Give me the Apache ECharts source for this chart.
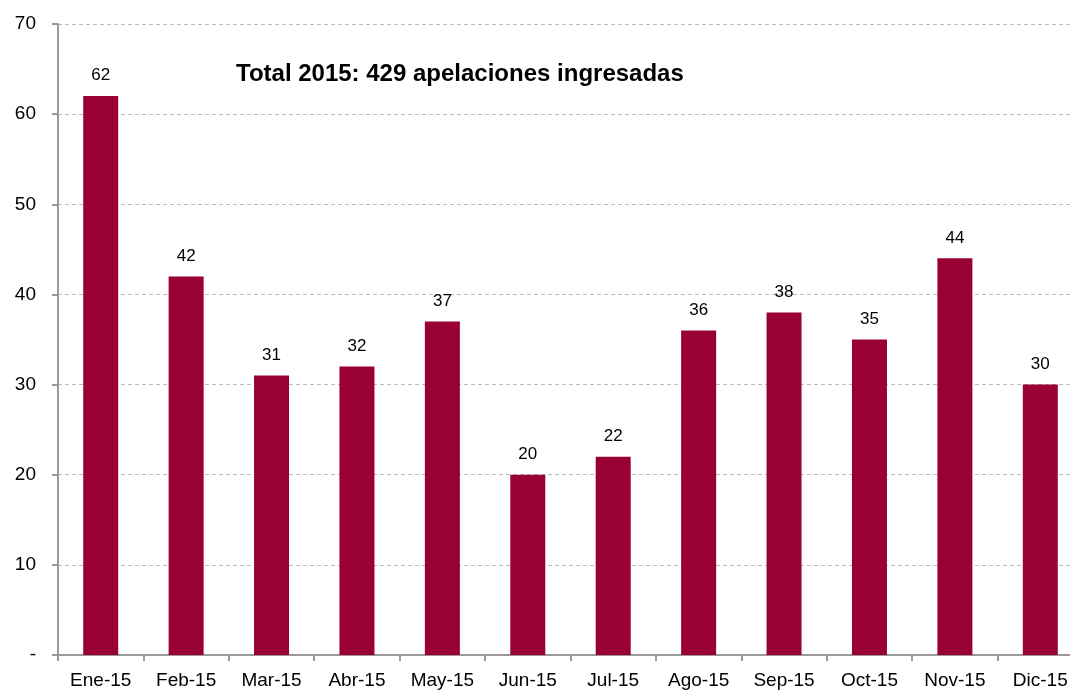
<!DOCTYPE html>
<html>
<head>
<meta charset="utf-8">
<script src="https://cdn.jsdelivr.net/npm/echarts@6/dist/echarts.min.js"></script>
<style>
  html, body { margin: 0; padding: 0; background: #fff; overflow: hidden; }
  #chart { width: 1083px; height: 690px; }
</style>
</head>
<body>
<div id="chart"></div>
<script>
var meses = ['Ene-15', 'Feb-15', 'Mar-15', 'Abr-15', 'May-15', 'Jun-15',
             'Jul-15', 'Ago-15', 'Sep-15', 'Oct-15', 'Nov-15', 'Dic-15'];
var apelaciones = [62, 42, 31, 32, 37, 20, 22, 36, 38, 35, 44, 30];
var tituloTotal = 'Total 2015: 429 apelaciones ingresadas';

// el eje sigue un poco a la derecha del borde de la ventana, como en el original
var chart = echarts.init(document.getElementById('chart'));
var option = {
    animation: false,
    textStyle: { fontFamily: 'Liberation Sans, Arial, sans-serif' },
    title: {
        text: tituloTotal,
        left: 231,
        top: 57,
        textStyle: { fontSize: 24, fontWeight: 'bold', color: '#000' }
    },
    grid: { left: 58, right: 0, top: 24, bottom: 35, containLabel: false },
    xAxis: {
        type: 'category',
        data: meses,
        axisLine: { lineStyle: { color: '#999', width: 2 } },
        axisTick: { show: true, length: 6, lineStyle: { color: '#999', width: 2 } },
        axisLabel: { color: '#000', fontSize: 19, margin: 16 }
    },
    yAxis: {
        type: 'value',
        min: 0,
        max: 70,
        interval: 10,
        axisLine: { show: true, lineStyle: { color: '#999', width: 2 } },
        axisTick: { show: true, length: 6, lineStyle: { color: '#999', width: 2 } },
        axisLabel: {
            color: '#000', fontSize: 19, margin: 22,
            formatter: function (v) { return v === 0 ? '-' : v; }
        },
        splitLine: { lineStyle: { color: '#bbb', type: [4, 3], width: 1 } }
    },
    series: [
        {
            name: 'Apelaciones',
            type: 'bar',
            data: apelaciones,
            barWidth: 35,
            itemStyle: { color: '#990033' },
            label: { show: true, position: 'top', distance: 12, color: '#000', fontSize: 17 }
        }
    ]
};
chart.setOption(option);
</script>
</body>
</html>
